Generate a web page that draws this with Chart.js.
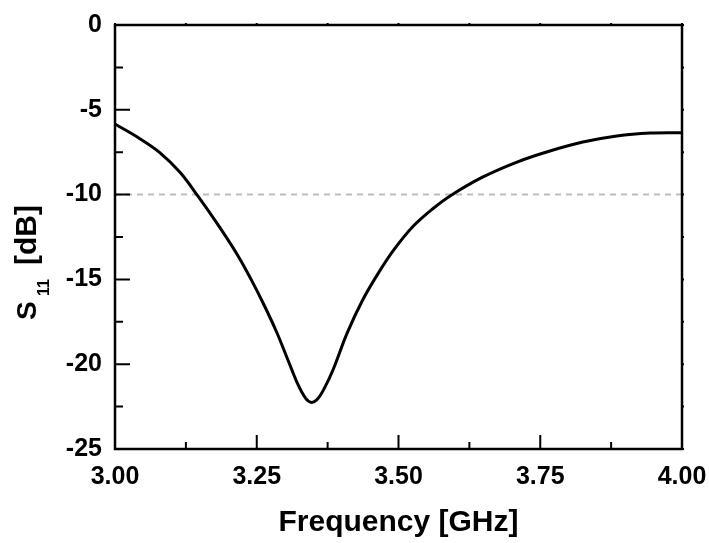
<!DOCTYPE html>
<html>
<head>
<meta charset="utf-8">
<script src="https://cdn.jsdelivr.net/npm/chart.js@4/dist/chart.umd.min.js"></script>
<style>
  html, body { margin: 0; padding: 0; background: #fff; }
  #wrap { width: 709px; height: 543px; position: relative; }
</style>
</head>
<body>
<div id="wrap"><canvas id="c" width="709" height="543"></canvas></div>
<script>
// ---- data ----
const freqGHz = [3.000, 3.040, 3.079, 3.115, 3.146, 3.180, 3.215, 3.240, 3.262, 3.285, 3.305, 3.322, 3.336, 3.346, 3.356, 3.368, 3.385, 3.409, 3.437, 3.465, 3.492, 3.525, 3.560, 3.591, 3.649, 3.709, 3.767, 3.825, 3.885, 3.944, 4.000];
const s11dB   = [-5.84, -6.62, -7.52, -8.70, -10.08, -11.70, -13.50, -15.00, -16.45, -18.10, -19.75, -21.15, -22.00, -22.25, -22.10, -21.50, -20.30, -18.20, -16.20, -14.60, -13.25, -11.90, -10.85, -10.08, -8.96, -8.08, -7.43, -6.90, -6.54, -6.37, -6.35];
const refFreq = [3.0, 4.0];
const refLevel = [-10, -10];
const xMajorTicks = [3.00, 3.25, 3.50, 3.75, 4.00];
const xMinorTicks = [3.125, 3.375, 3.625, 3.875];
const yMajorTicks = [0, -5, -10, -15, -20, -25];
const yMinorTicks = [-2.5, -7.5, -12.5, -17.5, -22.5];
const xTitle = 'Frequency [GHz]';
const yTitleMain = 'S';
const yTitleSub = '11';
const yTitleRest = '[dB]';

const FONT = "'Liberation Sans', Arial, sans-serif";

const framePlugin = {
  id: 'frame',
  afterDatasetsDraw(chart) {
    const {ctx, chartArea: a, scales: {x, y}} = chart;
    ctx.save();
    ctx.strokeStyle = '#000';
    ctx.lineWidth = 2.5;
    ctx.strokeRect(a.left, a.top, a.right - a.left, a.bottom - a.top);
    ctx.lineWidth = 2;
    ctx.beginPath();
    yMajorTicks.forEach(v => { const p = y.getPixelForValue(v); ctx.moveTo(a.left, p); ctx.lineTo(a.left + 15, p); ctx.moveTo(a.right, p); ctx.lineTo(a.right + 2, p); });
    yMinorTicks.forEach(v => { const p = y.getPixelForValue(v); ctx.moveTo(a.left, p); ctx.lineTo(a.left + 8, p); ctx.moveTo(a.right, p); ctx.lineTo(a.right + 2, p); });
    xMajorTicks.forEach(v => { const p = x.getPixelForValue(v); ctx.moveTo(p, a.bottom); ctx.lineTo(p, a.bottom - 14); ctx.moveTo(p, a.top); ctx.lineTo(p, a.top - 2); });
    xMinorTicks.forEach(v => { const p = x.getPixelForValue(v); ctx.moveTo(p, a.bottom); ctx.lineTo(p, a.bottom - 7); ctx.moveTo(p, a.top); ctx.lineTo(p, a.top - 2); });
    ctx.stroke();
    ctx.restore();
  },
  afterDraw(chart) {
    const {ctx} = chart;
    ctx.save();
    ctx.fillStyle = '#000';
    ctx.translate(36, 320);
    ctx.rotate(-Math.PI / 2);
    ctx.textBaseline = 'alphabetic';
    ctx.textAlign = 'left';
    ctx.font = 'bold 28px ' + FONT;
    ctx.fillText(yTitleMain, 0, 0);
    ctx.font = 'bold 16px ' + FONT;
    ctx.fillText(yTitleSub, 24, 13);
    ctx.font = 'bold 30px ' + FONT;
    ctx.fillText(yTitleRest, 55, 0);
    ctx.restore();
  }
};

new Chart(document.getElementById('c'), {
  type: 'line',
  data: {
    datasets: [
      {
        data: freqGHz.map((f, i) => ({x: f, y: s11dB[i]})),
        borderColor: '#000',
        borderWidth: 3,
        pointRadius: 0,
        tension: 0.35,
        fill: false,
        order: 0
      },
      {
        data: refFreq.map((f, i) => ({x: f, y: refLevel[i]})),
        borderColor: '#bdbdbd',
        borderWidth: 2,
        borderDash: [6, 5],
        pointRadius: 0,
        fill: false,
        order: 1
      }
    ]
  },
  options: {
    responsive: false,
    animation: false,
    devicePixelRatio: 1,
    layout: { padding: { left: 0, top: 25, right: 27, bottom: 0 } },
    plugins: { legend: { display: false }, tooltip: { enabled: false } },
    scales: {
      x: {
        type: 'linear',
        min: 3, max: 4,
        afterFit(s) { s.height = 94; s.paddingLeft = 0; s.paddingRight = 0; },
        afterBuildTicks(s) { s.ticks = xMajorTicks.map(v => ({value: v})); },
        grid: { display: false, drawTicks: false },
        border: { display: false },
        ticks: {
          padding: 13,
          color: '#000',
          font: { family: FONT, size: 25, weight: 'bold' },
          callback: v => Number(v).toFixed(2),
          maxRotation: 0
        },
        title: {
          display: true,
          text: xTitle,
          color: '#000',
          font: { family: FONT, size: 30, weight: 'bold' },
          padding: { top: 0, bottom: 2 }
        }
      },
      y: {
        type: 'linear',
        min: -25, max: 0,
        afterFit(s) { s.width = 115; s.paddingTop = 0; s.paddingBottom = 0; },
        afterBuildTicks(s) { s.ticks = yMajorTicks.map(v => ({value: v})); },
        grid: { display: false, drawTicks: false },
        border: { display: false },
        ticks: {
          padding: 13,
          color: '#000',
          font: { family: FONT, size: 25, weight: 'bold' },
          callback: v => String(v)
        }
      }
    }
  },
  plugins: [framePlugin]
});
</script>
</body>
</html>
